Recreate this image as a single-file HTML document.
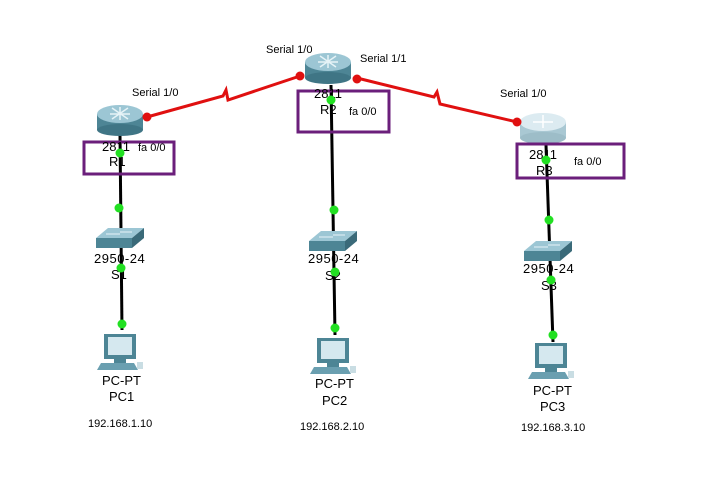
<!DOCTYPE html>
<html><head><meta charset="utf-8"><style>
html,body{margin:0;padding:0;background:#fff;}
svg{display:block;}
text{font-family:"Liberation Sans",sans-serif;fill:#000;}
.s{font-size:11px}.m{font-size:13px}.n{font-size:13px;letter-spacing:0.5px}
</style></head><body>
<svg width="716" height="495" viewBox="0 0 716 495" xmlns="http://www.w3.org/2000/svg">
<defs>
<g id="router">
<rect x="-23" y="-6" width="46" height="16" fill="#4d8595"/>
<ellipse cx="0" cy="10" rx="23" ry="6" fill="#3f7585"/>
<ellipse cx="0" cy="-6" rx="23" ry="9" fill="#9cc6d4"/>
<path d="M-10,-6 h20 M0,-13 v13 M-8,-12 l16,11 M8,-12 l-16,11" stroke="#e6f3f7" stroke-width="1.5"/>
</g>
<g id="sw">
<path d="M-22,-8 h36 l12,-10 h-36 z" fill="#9cc6d4"/>
<path d="M-22,-8 h36 v10 h-36 z" fill="#4d8595"/>
<path d="M14,-8 l12,-10 v10 l-12,10 z" fill="#3a6a79"/>
<path d="M-12,-12 h14 M2,-14 h12" stroke="#e6f3f7" stroke-width="1"/>
</g>
<g id="pc">
<rect x="-16" y="-18" width="32" height="25" fill="#4d8595"/>
<rect x="-12" y="-15" width="24" height="18" fill="#d5e8ef"/>
<rect x="-6" y="7" width="12" height="4" fill="#4d8595"/>
<path d="M-19,11 h33 l4,7 h-41 z" fill="#6a9fb0"/>
<rect x="17" y="10" width="6" height="7" fill="#c9dde3"/>
</g>
</defs>
<polyline points="147,117 223,96 226,90 228,100 300,76" fill="none" stroke="#e01010" stroke-width="3"/>
<polyline points="357,78 434,97 437,92 440,104 517,122" fill="none" stroke="#e01010" stroke-width="3"/>
<line x1="120" y1="135" x2="122" y2="330" stroke="#000" stroke-width="3"/>
<line x1="331" y1="85" x2="335" y2="335" stroke="#000" stroke-width="3"/>
<line x1="546" y1="145" x2="553" y2="342" stroke="#000" stroke-width="3"/>
<use href="#router" x="120" y="120"/>
<use href="#router" x="328" y="68"/>
<g transform="translate(543,128)">
<rect x="-23" y="-6" width="46" height="16" fill="#a9c8d3"/>
<ellipse cx="0" cy="10" rx="23" ry="6" fill="#9dbdc8"/>
<ellipse cx="0" cy="-6" rx="23" ry="9" fill="#dcebf1"/>
<path d="M-10,-6 h20 M0,-13 v13" stroke="#fff" stroke-width="1.5"/>
</g>
<use href="#sw" x="118" y="246"/>
<use href="#sw" x="331" y="249"/>
<use href="#sw" x="546" y="259"/>
<use href="#pc" x="120" y="352"/>
<use href="#pc" x="333" y="356"/>
<use href="#pc" x="551" y="361"/>
<rect x="84" y="142" width="90" height="32" fill="none" stroke="#6b1f7b" stroke-width="3"/>
<rect x="298" y="91" width="91" height="41" fill="none" stroke="#6b1f7b" stroke-width="3"/>
<rect x="517" y="144" width="107" height="34" fill="none" stroke="#6b1f7b" stroke-width="3"/>
<text class="s" x="132" y="96">Serial 1/0</text>
<text class="s" x="266" y="53">Serial 1/0</text>
<text class="s" x="360" y="62">Serial 1/1</text>
<text class="s" x="500" y="97">Serial 1/0</text>
<text class="m" x="102" y="151">2811</text><text class="s" x="138" y="151">fa 0/0</text>
<text class="m" x="109" y="166">R1</text>
<text class="m" x="314" y="98">2811</text><text class="m" x="320" y="114">R2</text><text class="s" x="349" y="115">fa 0/0</text>
<text class="m" x="529" y="159">2811</text><text class="m" x="536" y="175">R3</text><text class="s" x="574" y="165">fa 0/0</text>
<text class="n" x="94" y="263">2950-24</text><text class="m" x="111" y="279">S1</text>
<text class="n" x="308" y="263">2950-24</text><text class="m" x="325" y="280">S2</text>
<text class="n" x="523" y="273">2950-24</text><text class="m" x="541" y="290">S3</text>
<text class="m" x="102" y="385">PC-PT</text><text class="m" x="109" y="401">PC1</text>
<text class="m" x="315" y="388">PC-PT</text><text class="m" x="322" y="405">PC2</text>
<text class="m" x="533" y="395">PC-PT</text><text class="m" x="540" y="411">PC3</text>
<text class="s" x="88" y="427">192.168.1.10</text>
<text class="s" x="300" y="430">192.168.2.10</text>
<text class="s" x="521" y="431">192.168.3.10</text>
<g fill="#e01010"><circle cx="147" cy="117" r="4.5"/><circle cx="300" cy="76" r="4.5"/><circle cx="357" cy="79" r="4.5"/><circle cx="517" cy="122" r="4.5"/></g>
<g fill="#22e022">
<circle cx="120" cy="153" r="4.5"/><circle cx="119" cy="208" r="4.5"/><circle cx="121" cy="268" r="4.5"/><circle cx="122" cy="324" r="4.5"/>
<circle cx="331" cy="100" r="4.5"/><circle cx="334" cy="210" r="4.5"/><circle cx="335" cy="272" r="4.5"/><circle cx="335" cy="328" r="4.5"/>
<circle cx="546" cy="160" r="4.5"/><circle cx="549" cy="220" r="4.5"/><circle cx="551" cy="280" r="4.5"/><circle cx="553" cy="335" r="4.5"/>
</g>
</svg>
</body></html>
